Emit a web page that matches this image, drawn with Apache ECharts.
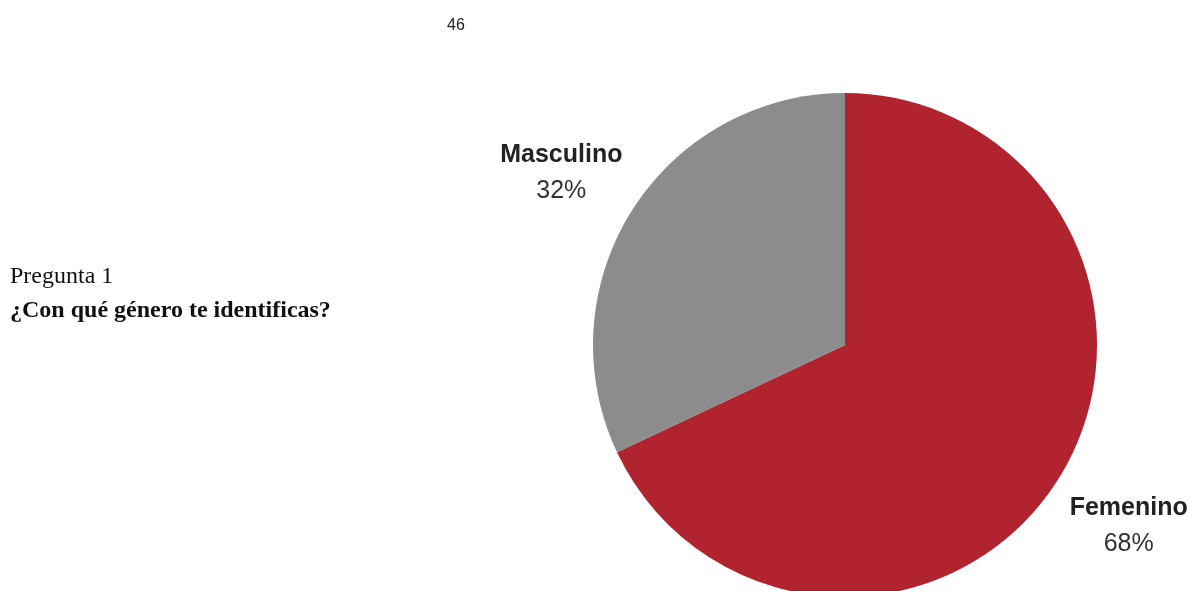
<!DOCTYPE html>
<html><head><meta charset="utf-8">
<style>html,body{margin:0;padding:0;background:#fff}#c{width:1196px;height:591px}</style>
<script src="https://cdn.jsdelivr.net/npm/echarts@6/dist/echarts.min.js"></script>
</head><body><div id="c"></div>
<script>
const categories = ['Femenino', 'Masculino'];
const values = [68, 32];
const colors = ['#B1232F', '#8D8C8D'];
const pageNumber = '46';
const questionLabel = 'Pregunta 1';
const questionText = '¿Con qué género te identificas?';

const chart = echarts.init(document.getElementById('c'), null, {renderer: 'canvas'});
const cx = 845, cy = 345, R = 252, labelR = 336;
const labelDy = [1, 8];
const total = values.reduce((a, b) => a + b, 0);
const midAngles = [];
let acc = 0;
values.forEach(v => { midAngles.push((acc + v / 2) / total * 2 * Math.PI); acc += v; });

const sans = '"Liberation Sans", Arial, sans-serif';
const serif = '"Liberation Serif", "Times New Roman", serif';
chart.setOption({
  animation: false,
  graphic: [
    {type: 'text', left: 447, top: 18, style: {text: pageNumber, fontSize: 16, fontFamily: sans, fill: '#222'}},
    {type: 'text', left: 10, top: 265, style: {text: questionLabel, fontSize: 24, fontFamily: serif, fill: '#111'}},
    {type: 'text', left: 10, top: 299, style: {text: questionText, fontSize: 24, fontWeight: 'bold', fontFamily: serif, fill: '#111'}}
  ],
  series: [{
    type: 'pie',
    center: [cx, cy],
    radius: [0, R],
    startAngle: 90,
    clockwise: true,
    silent: true,
    data: categories.map((c, i) => ({name: c, value: values[i], itemStyle: {color: colors[i]}})),
    label: {
      show: true,
      position: 'outside',
      overflow: 'none',
      width: 200,
      formatter: p => '{n|' + p.name + '}\n{v|' + Math.round(p.percent) + '%}',
      rich: {
        n: {fontSize: 25, fontWeight: 'bold', fontFamily: sans, color: '#222', lineHeight: 36, align: 'center'},
        v: {fontSize: 25, fontFamily: sans, color: '#333', lineHeight: 36, align: 'center'}
      }
    },
    labelLine: {show: false},
    labelLayout: p => {
      const a = midAngles[p.dataIndex];
      return {x: cx + labelR * Math.sin(a), y: cy - labelR * Math.cos(a) + labelDy[p.dataIndex], align: 'center', verticalAlign: 'middle'};
    }
  }]
});
</script></body></html>
